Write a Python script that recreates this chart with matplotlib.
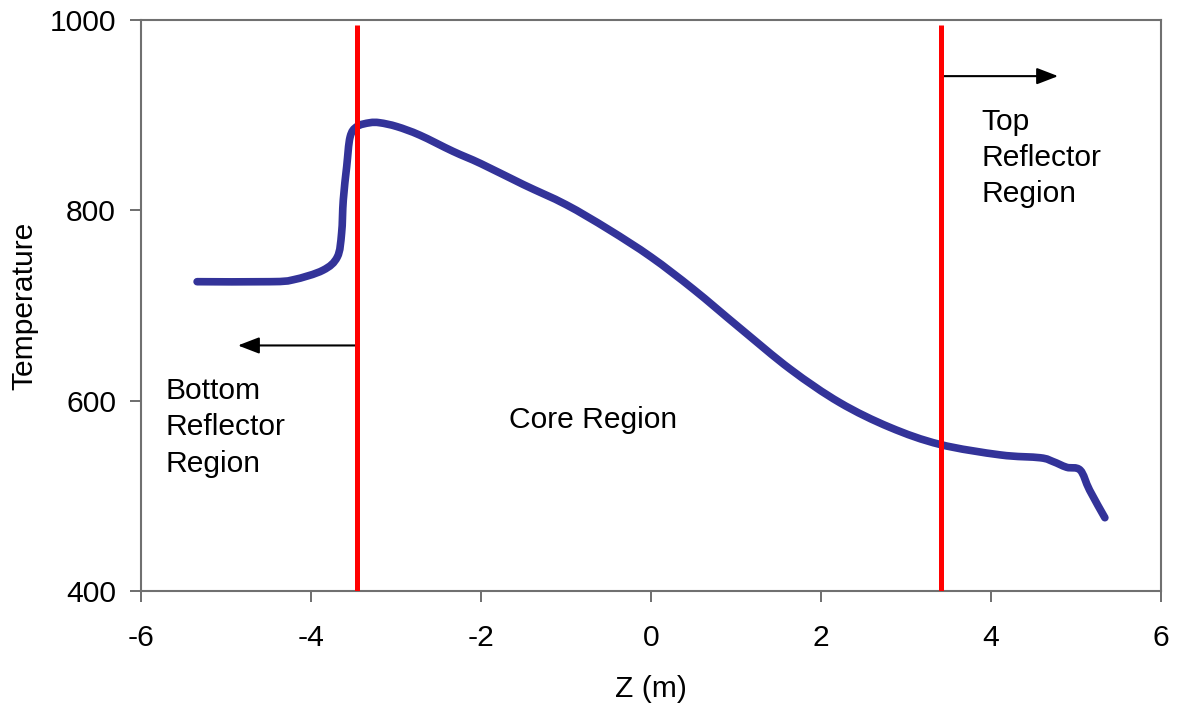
import matplotlib
matplotlib.use("Agg")
import matplotlib.pyplot as plt
from matplotlib.path import Path
from matplotlib.patches import PathPatch

plt.rcParams['font.family'] = ['Liberation Sans', 'DejaVu Sans']
plt.rcParams['axes.unicode_minus'] = False

# temperature profile along the core axis
z = [-5.34, -4.48, -4.21, -3.86, -3.69, -3.64, -3.62, -3.58, -3.54, -3.46,
     -3.31, -3.19, -2.99, -2.72, -2.33, -2.0, -1.5, -1.0, -0.5, 0.0,
     0.5, 1.05, 1.64, 2.22, 2.81, 3.40, 4.11, 4.58, 4.73, 4.89, 5.05,
     5.16, 5.34]
temp = [725, 725, 727, 737, 751, 776, 811, 846, 877, 888,
        892, 892, 888, 879, 862, 849, 827, 806, 780, 751,
        717, 676, 633, 598, 572, 554, 543, 540, 536, 530, 527,
        506, 477]

# region boundaries
bounds = [-3.46, 3.41]
xticks = [-6, -4, -2, 0, 2, 4, 6]
yticks = [400, 600, 800, 1000]


def smooth_path(xs, ys):
    # excel style smoothed line: catmull-rom as cubic bezier segments
    pts = list(zip(xs, ys))
    n = len(pts)
    verts = [pts[0]]
    codes = [Path.MOVETO]
    for i in range(n - 1):
        p0 = pts[i - 1] if i > 0 else pts[i]
        p1 = pts[i]
        p2 = pts[i + 1]
        p3 = pts[i + 2] if i + 2 < n else pts[i + 1]
        c1 = (p1[0] + (p2[0] - p0[0]) / 6, p1[1] + (p2[1] - p0[1]) / 6)
        c2 = (p2[0] - (p3[0] - p1[0]) / 6, p2[1] - (p3[1] - p1[1]) / 6)
        verts += [c1, c2, p2]
        codes += [Path.CURVE4] * 3
    return Path(verts, codes)


fig = plt.figure(figsize=(11.79, 7.06), dpi=100)
ax = fig.add_axes([0.1196, 0.1629, 0.8651, 0.8088])

curve = PathPatch(smooth_path(z, temp), fill=False, edgecolor='#333399',
                  lw=5.5, capstyle='round', joinstyle='round', zorder=3)
ax.add_patch(curve)
ax.vlines(bounds, 400, 995, color='#ff0000', lw=3.6, zorder=4)

# arrows
arrow = dict(arrowstyle='-|>,head_length=1.3,head_width=0.5',
             color='black', lw=1.5, shrinkA=0, shrinkB=0)
ax.annotate('', xy=(-4.86, 658), xytext=(bounds[0], 658), arrowprops=arrow)
ax.annotate('', xy=(4.79, 941), xytext=(bounds[1], 941), arrowprops=arrow)

fs = 21.6
ax.text(-5.71, 625, 'Bottom\nReflector\nRegion', fontsize=fs, va='top',
        ha='left', linespacing=1.38)
ax.text(-0.68, 580, 'Core Region', fontsize=fs, va='center', ha='center')
ax.text(3.89, 908, 'Top\nReflector\nRegion', fontsize=fs, va='top',
        ha='left', linespacing=1.38)

ax.set_xlim(-6, 6)
ax.set_ylim(400, 1000)
ax.set_xticks(xticks)
ax.set_yticks(yticks)
ax.tick_params(axis='both', direction='out', length=8, width=1.2,
               color='#555555', labelsize=fs)
ax.tick_params(axis='x', pad=16)
ax.tick_params(axis='y', pad=10)
ax.set_xlabel('Z (m)', fontsize=fs, labelpad=16)
ax.set_ylabel('Temperature', fontsize=fs, labelpad=8)
for s in ax.spines.values():
    s.set_color('#707070')
    s.set_linewidth(1.5)

fig.savefig('out.png', dpi=100)
